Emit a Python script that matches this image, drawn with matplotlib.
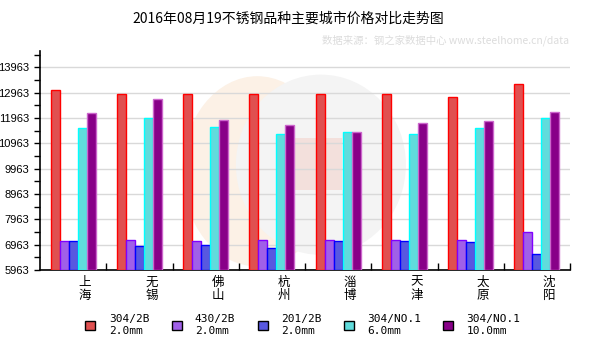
import matplotlib
matplotlib.use("Agg")
import matplotlib.pyplot as plt
import numpy as np
from matplotlib.patches import Ellipse, Rectangle

plt.rcParams["font.family"] = ["Noto Sans CJK SC", "DejaVu Sans"]

cities = ["上海", "无锡", "佛山", "杭州", "淄博", "天津", "太原", "沈阳"]
series_names = ["304/2B\n2.0mm", "430/2B\n2.0mm", "201/2B\n2.0mm",
                "304/NO.1\n6.0mm", "304/NO.1\n10.0mm"]
p304_2b = [13050, 12900, 12900, 12900, 12900, 12900, 12800, 13300]
p430_2b = [7100, 7150, 7100, 7150, 7150, 7150, 7150, 7450]
p201_2b = [7100, 6900, 6950, 6850, 7100, 7100, 7050, 6600]
p304_no1_6 = [11550, 11950, 11600, 11350, 11400, 11350, 11550, 11950]
p304_no1_10 = [12150, 12700, 11900, 11700, 11400, 11750, 11850, 12200]
yticks = [5963, 6963, 7963, 8963, 9963, 10963, 11963, 12963, 13963]

series = [p304_2b, p430_2b, p201_2b, p304_no1_6, p304_no1_10]
faces = ["#e05050", "#a060e8", "#5858e0", "#60dcdc", "#880088"]
edges = ["#ff0000", "#8000ff", "#0000ff", "#00ffff", "#cc66cc"]

fig = plt.figure(figsize=(6, 3.5), dpi=100)
ax = fig.add_axes([40 / 600, 1 - 270 / 350, 530 / 600, 219.3 / 350])

# faint watermark logo behind the bars (axes is 530 x 219 px)
ax.add_patch(Ellipse((0.41, 0.45), 150 / 530, 190 / 219, transform=ax.transAxes,
                     facecolor="#fcf1e6", edgecolor="none", zorder=0))
ax.add_patch(Ellipse((0.53, 0.48), 170 / 530, 180 / 219, transform=ax.transAxes,
                     facecolor="#f4f4f4", edgecolor="none", zorder=0))
ax.add_patch(Rectangle((250 / 530, 80 / 219), 52 / 530, 52 / 219, transform=ax.transAxes,
                       facecolor="#f3e0dc", edgecolor="none", zorder=0))

x = np.arange(len(cities)) + 0.5
w = 0.136
for k, vals in enumerate(series):
    base = yticks[0]
    ax.bar(x + (k - 2) * w, np.array(vals) - base, width=w, bottom=base,
           color=faces[k], edgecolor=edges[k], linewidth=1.0,
           label=series_names[k], zorder=3)

ax.set_xlim(0, len(cities))
ax.set_ylim(5963, 14621)
ax.set_yticks(yticks)
ax.set_yticks(np.array(yticks) + 500, minor=True)
ax.yaxis.grid(True, color="#d9d9d9", linewidth=1.0, zorder=1)
ax.set_axisbelow(True)

ax.set_xticks(np.arange(1, len(cities) + 1))
ax.set_xticklabels([""] * len(cities))
ax.set_xticks(x + 0.18, minor=True)
ax.set_xticklabels(["\n".join(c) for c in cities], minor=True,
                   fontsize=9, linespacing=1.0)
ax.tick_params(axis="x", which="major", direction="in", length=5, width=1)
ax.tick_params(axis="x", which="minor", length=0, pad=4)
ax.tick_params(axis="y", which="both", direction="out", length=4, width=1)
for lab in ax.get_yticklabels():
    lab.set_fontfamily("Liberation Sans")
    lab.set_fontsize(8)

for s in ["top", "right"]:
    ax.spines[s].set_visible(False)
for s in ["left", "bottom"]:
    ax.spines[s].set_linewidth(1.2)

fig.text(288 / 600, 1 - 19 / 350, "2016年08月19不锈钢品种主要城市价格对比走势图",
         ha="center", va="center", fontsize=10)
fig.text(569 / 600, 1 - 40 / 350, "数据来源：钢之家数据中心 www.steelhome.cn/data",
         ha="right", va="center", fontsize=7.5, color="#dcdcdc",
         family=["Noto Sans CJK SC", "DejaVu Sans Mono"])

handles = [Rectangle((0, 0), 1, 1, facecolor=faces[k], edgecolor="black", linewidth=1)
           for k in range(len(series))]
fig.legend(handles, series_names, loc="center", bbox_to_anchor=(303 / 600, 1 - 325 / 350),
           ncol=5, frameon=False, prop={"family": "DejaVu Sans Mono", "size": 8},
           handlelength=0.9, handleheight=0.9, handletextpad=1.2,
           columnspacing=2.0, borderpad=0, labelspacing=0)

fig.savefig("out.png", dpi=100)
